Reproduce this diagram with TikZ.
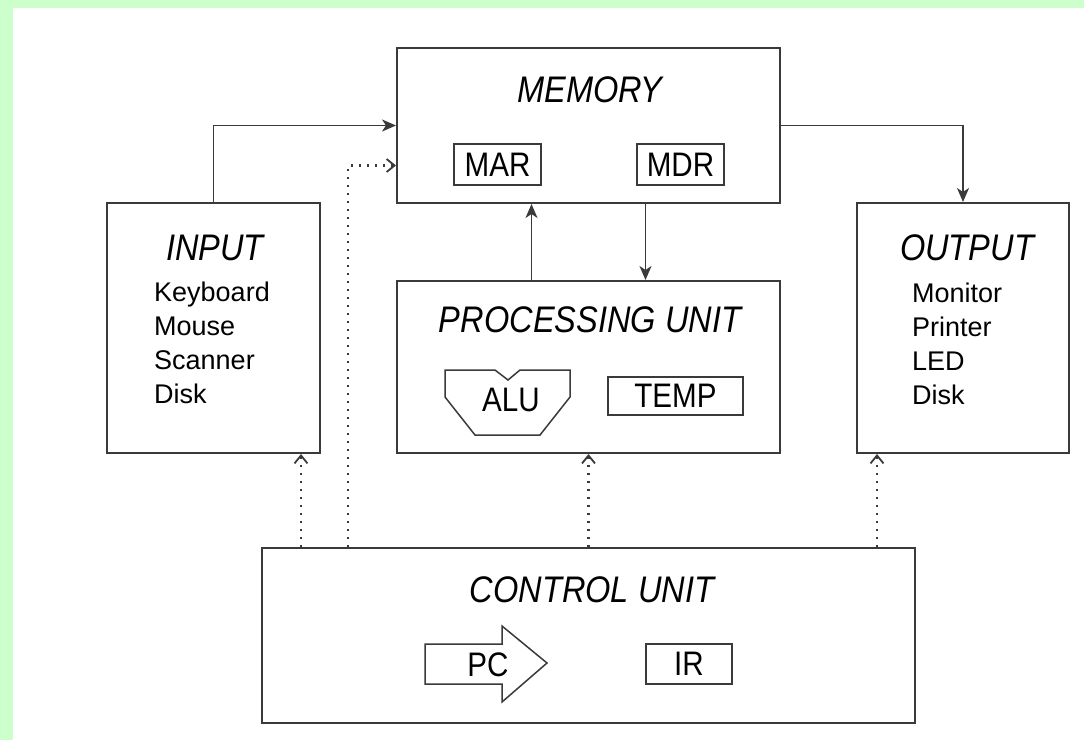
\documentclass[tikz,border=0pt]{standalone}
\usepackage{fontspec}
\setmainfont{Liberation Sans}
\newfontfamily\titlefont[FakeStretch=0.88]{Liberation Sans}
\newfontfamily\regfont[FakeStretch=0.87]{Liberation Sans}
\usetikzlibrary{arrows.meta}
\definecolor{framegreen}{HTML}{CCFFCC}
\definecolor{linegray}{HTML}{3A3A3A}
\tikzset{
	unitbox/.style={draw=linegray, line width=2pt, inner sep=0pt},
	reg/.style={draw=linegray, line width=1.8pt, inner sep=0pt, font=\regfont\fontsize{34}{36}\selectfont},
	unittitle/.style={anchor=base, inner sep=0pt, font=\titlefont\itshape\fontsize{37}{40}\selectfont},
	device/.style={anchor=base west, inner sep=0pt, font=\fontsize{27}{30}\selectfont},
	bus/.style={draw=linegray, line width=1.7pt, -{Stealth[length=14pt,width=12pt,inset=4pt]}},
	ctl/.style={draw=linegray, line width=2.6pt, dash pattern=on 2pt off 6pt,
		-{Straight Barb[length=8pt,width=13pt,line width=1.8pt]}}
}

\begin{document}
\begin{tikzpicture}[x=1pt, y=-1pt]

% Frame
\fill[framegreen] (0,0) rectangle (1084,740);
\fill[white] (13,8) rectangle (1084,740);
\useasboundingbox (0,0) rectangle (1084,740);

% Units
\node[unitbox, minimum width=383pt, minimum height=155pt] (memory) at (588.5,125.5) {};
\node[unitbox, minimum width=213pt, minimum height=250pt] (input)  at (213.5,328) {};
\node[unitbox, minimum width=212pt, minimum height=250pt] (output) at (963,328) {};
\node[unitbox, minimum width=383pt, minimum height=172pt] (pu)     at (588.5,367) {};
\node[unitbox, minimum width=653pt, minimum height=175pt] (ctrl)   at (588.5,635.5) {};

\node[unittitle] (memtitle) at (590,102) {MEMORY};
\node[unittitle] (intitle)  at (215,260) {INPUT};
\node[unittitle] (outtitle) at (967,260) {OUTPUT};
\node[unittitle] (putitle)  at (590,332) {PROCESSING UNIT};
\node[unittitle] (cutitle)  at (592,602) {CONTROL UNIT};

% Devices
\foreach \dev [count=\i] in {Keyboard, Mouse, Scanner, Disk}
	\node[device] (in\i) at (154,{267+34*\i}) {\dev};
\foreach \dev [count=\i] in {Monitor, Printer, LED, Disk}
	\node[device] (out\i) at (912,{268+34*\i}) {\dev};

% Registers
\node[reg, minimum width=87pt, minimum height=41pt]  (mar)  at (497.5,164.5) {MAR};
\node[reg, minimum width=87pt, minimum height=41pt]  (mdr)  at (680.5,164.5) {MDR};
\node[reg, minimum width=135pt, minimum height=38pt] (temp) at (675.5,396) {TEMP};
\node[reg, minimum width=86pt, minimum height=40pt]  (ir)   at (689,664) {IR};

\draw[linegray, line width=1.5pt] (445,370) -- (495,370) -- (508,380) -- (520,370) -- (570,370)
	-- (570,397) -- (540,435) -- (475,435) -- (445,397) -- cycle;
\node[reg, draw=none] (alu) at (511,400) {ALU};

\draw[linegray, line width=1.5pt] (425,644) -- (502,644) -- (502,626) -- (547,663)
	-- (502,702) -- (502,684) -- (425,684) -- cycle;
\node[reg, draw=none] (pc) at (488,664.5) {PC};

% Data paths
\draw[bus] (input.north) |- (memory.west);
\draw[bus] (memory.east) -| (output.north);
\draw[bus] ([xshift=-57pt]pu.north) -- ([xshift=-57pt]memory.south);
\draw[bus] ([xshift=57pt]memory.south) -- ([xshift=57pt]pu.north);

% Control signals
\coordinate (inport)  at ([xshift=-20pt]input.south east);
\coordinate (outport) at ([xshift=21pt]output.south west);
\coordinate (memport) at ([yshift=-40pt]memory.west);
\coordinate (memtap)  at ([xshift=87pt]ctrl.north west);
\draw[ctl] (ctrl.north -| inport) -- (inport);
\draw[ctl] (memtap) |- (memport);
\draw[ctl] (ctrl.north) -- (pu.south);
\draw[ctl] (ctrl.north -| outport) -- (outport);

\end{tikzpicture}
\end{document}
